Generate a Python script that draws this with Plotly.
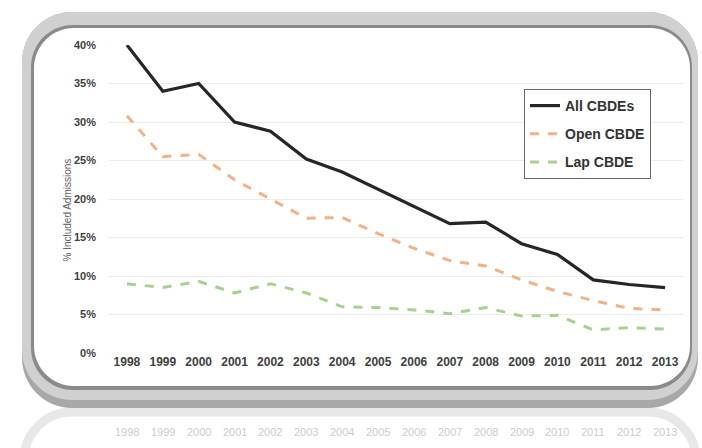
import plotly.graph_objects as go

years = ["1998", "1999", "2000", "2001", "2002", "2003", "2004", "2005",
         "2006", "2007", "2008", "2009", "2010", "2011", "2012", "2013"]
all_cbde = [40.0, 34.0, 35.0, 30.0, 28.8, 25.2, 23.5, 21.3, 19.0, 16.8, 17.0, 14.2, 12.8, 9.5, 8.9, 8.5]
open_cbde = [30.8, 25.5, 25.8, 22.5, 20.0, 17.5, 17.6, 15.5, 13.6, 12.0, 11.3, 9.5, 8.0, 6.8, 5.8, 5.6]
lap_cbde = [9.0, 8.5, 9.3, 7.8, 9.0, 7.8, 6.0, 5.9, 5.6, 5.1, 5.9, 4.8, 4.9, 3.0, 3.3, 3.1]
y_ticks = [0, 5, 10, 15, 20, 25, 30, 35, 40]
y_ticktext = [f"{v}%" for v in y_ticks]

W, H = 702, 448
L, R, T, B = 109, 19, 45, 95
PW, PH = W - L - R, H - T - B


def px(x):
    return (x - L) / PW


def py(y):
    return (H - B - y) / PH


def rrect(x0, y0, x1, y1, r):
    k = 0.5523 * r
    pts = []
    pts.append(f"M{px(x0 + r)},{py(y0)}")
    pts.append(f"L{px(x1 - r)},{py(y0)}")
    pts.append(f"C{px(x1 - r + k)},{py(y0)} {px(x1)},{py(y0 + r - k)} {px(x1)},{py(y0 + r)}")
    pts.append(f"L{px(x1)},{py(y1 - r)}")
    pts.append(f"C{px(x1)},{py(y1 - r + k)} {px(x1 - r + k)},{py(y1)} {px(x1 - r)},{py(y1)}")
    pts.append(f"L{px(x0 + r)},{py(y1)}")
    pts.append(f"C{px(x0 + r - k)},{py(y1)} {px(x0)},{py(y1 - r + k)} {px(x0)},{py(y1 - r)}")
    pts.append(f"L{px(x0)},{py(y0 + r)}")
    pts.append(f"C{px(x0)},{py(y0 + r - k)} {px(x0 + r - k)},{py(y0)} {px(x0 + r)},{py(y0)}")
    pts.append("Z")
    return " ".join(pts)


fig = go.Figure()
fig.add_trace(go.Scatter(x=years, y=all_cbde, mode="lines", name="All CBDEs", legendgroup="a",
                         line=dict(color="#262626", width=3.2)))
fig.add_trace(go.Scatter(x=years, y=open_cbde, mode="lines", name="Open CBDE", legendgroup="b",
                         line=dict(color="#F4B183", width=3, dash="dash")))
fig.add_trace(go.Scatter(x=years, y=lap_cbde, mode="lines", name="Lap CBDE", legendgroup="c",
                         line=dict(color="#A9D18E", width=3, dash="dash")))

shapes = [
    # reflection of frame (faint)
    dict(type="path", xref="paper", yref="paper", layer="below",
         path=rrect(24, 412, 696, 560, 48),
         fillcolor="rgba(0,0,0,0)", line=dict(color="#e8e8e8", width=9)),
    # outer frame with darker bottom band
    dict(type="path", xref="paper", yref="paper", layer="below",
         path=rrect(22, 12, 698, 408, 50),
         fillcolor="#a8a8a8", line=dict(width=0)),
    dict(type="path", xref="paper", yref="paper", layer="below",
         path=rrect(22, 12, 698, 400, 50),
         fillcolor="#d0d0d0", line=dict(width=0)),
    dict(type="path", xref="paper", yref="paper", layer="below",
         path=rrect(31, 25, 692, 390, 42),
         fillcolor="#8a8a8a", line=dict(width=0)),
    dict(type="path", xref="paper", yref="paper", layer="below",
         path=rrect(34, 28, 690, 386, 40),
         fillcolor="#ffffff", line=dict(width=0)),
]

annotations = [
    dict(text="% Included Admissions", xref="paper", yref="paper",
         x=px(59), y=py(210), textangle=-90, showarrow=False,
         font=dict(size=10, color="#606060", family="Liberation Sans"))
]
for i, yr in enumerate(years):
    annotations.append(dict(text=yr, xref="x", yref="paper", x=i, y=py(440),
                            showarrow=False,
                            font=dict(size=11, color="#cccccc", family="Liberation Sans")))

fig.update_layout(
    width=W, height=H,
    margin=dict(l=L, r=R, t=T, b=B),
    paper_bgcolor="white",
    plot_bgcolor="rgba(0,0,0,0)",
    font=dict(family="Liberation Sans", color="#404040"),
    xaxis=dict(type="category", range=[-0.5, 15.5], showgrid=False, showline=False,
               ticks="", tickfont=dict(size=12, color="#404040", family="Liberation Sans", weight="bold"),
               fixedrange=True),
    yaxis=dict(range=[0, 40], tickvals=y_ticks, ticktext=y_ticktext,
               showgrid=True, gridcolor="#ececec", gridwidth=1, zeroline=False,
               showline=False, ticks="", ticklabelstandoff=12,
               tickfont=dict(size=11, color="#404040", family="Liberation Sans", weight="bold")),
    legend=dict(x=px(524), y=py(89), xanchor="left", yanchor="top",
                bgcolor="white", bordercolor="#666666", borderwidth=1,
                font=dict(size=14, color="#333333", family="Liberation Sans", weight="bold"),
                tracegroupgap=7, itemwidth=30),
    shapes=shapes,
    annotations=annotations,
    showlegend=True,
)

fig.write_html("out.html")
